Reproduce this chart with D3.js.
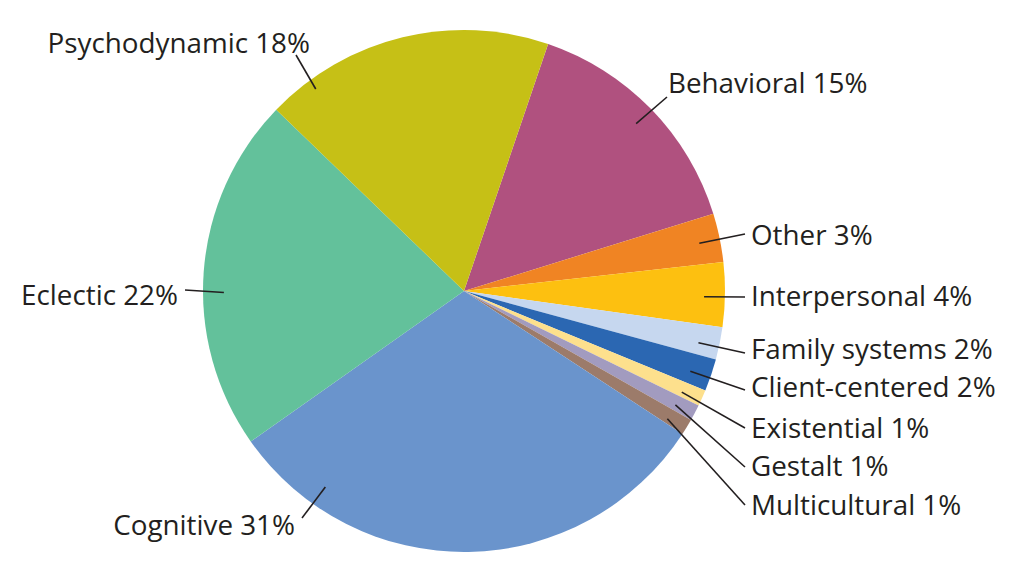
<!DOCTYPE html>
<html>
<head>
<meta charset="utf-8">
<script src="https://cdn.jsdelivr.net/npm/d3@7"></script>
<style>
  html, body { margin: 0; padding: 0; background: #ffffff; }
  svg { display: block; }
  text { font-family: "Open Sans", "Noto Sans", sans-serif; fill: #231f20; }
</style>
</head>
<body>
<svg id="chart" width="1023" height="582"></svg>
<script>
// ---- data ----
const categories = ["Behavioral", "Other", "Interpersonal", "Family systems", "Client-centered",
  "Existential", "Gestalt", "Multicultural", "Cognitive", "Eclectic", "Psychodynamic"];
const percents = [15, 3, 4, 2, 2, 1, 1, 1, 31, 22, 18];
const colors = ["#b0517f", "#f08423", "#fdc010", "#c6d7ef", "#2b67b2",
  "#fde08d", "#a29bbf", "#9c7b6a", "#6a94cc", "#63c19b", "#c6c016"];

// ---- label layout (text anchor / leader-line end, and where the leader enters the slice) ----
// t: fraction across the slice's angle; rr: fraction of radius
const labelLayout = [
  { x: 667, y: 97,  tx: 668, ty: 83,  anchor: "start", t: 0.50, rr: 0.92 },
  { x: 745, y: 234, tx: 751, ty: 235, anchor: "start", t: 0.53, rr: 0.92 },
  { x: 745, y: 297, tx: 751, ty: 296, anchor: "start", t: 0.54, rr: 0.92 },
  { x: 745, y: 353, tx: 751, ty: 349, anchor: "start", t: 0.62, rr: 0.92 },
  { x: 745, y: 390, tx: 751, ty: 387, anchor: "start", t: 0.60, rr: 0.92 },
  { x: 745, y: 428, tx: 751, ty: 428, anchor: "start", t: 0.70, rr: 0.92 },
  { x: 745, y: 467, tx: 751, ty: 466, anchor: "start", t: 0.64, rr: 0.92 },
  { x: 745, y: 505, tx: 751, ty: 505, anchor: "start", t: 0.70, rr: 0.92 },
  { x: 302, y: 518, tx: 295, ty: 525, anchor: "end",   t: 0.825, rr: 0.92 },
  { x: 185, y: 290, tx: 178, ty: 295, anchor: "end",   t: 0.44, rr: 0.92 },
  { x: 296, y: 55,  tx: 310, ty: 43,  anchor: "end",   t: 0.15, rr: 0.96 }
];

const startDeg = 18.8;
const cx = 464, cy = 291, R = 261;

const svg = d3.select("#chart");
const g = svg.append("g").attr("transform", `translate(${cx},${cy})`);

const data = categories.map((c, i) => ({ name: c, value: percents[i], color: colors[i], layout: labelLayout[i] }));

const pie = d3.pie()
  .value(d => d.value)
  .sort(null)
  .startAngle(startDeg * Math.PI / 180)
  .endAngle(startDeg * Math.PI / 180 + 2 * Math.PI);

const arc = d3.arc().innerRadius(0).outerRadius(R);
const arcs = pie(data);

g.selectAll("path.slice")
  .data(arcs)
  .join("path")
  .attr("class", "slice")
  .attr("d", arc)
  .attr("fill", d => d.data.color);

function innerPt(d) {
  const a = d.startAngle + (d.endAngle - d.startAngle) * d.data.layout.t;
  const r = R * d.data.layout.rr;
  return [Math.sin(a) * r, -Math.cos(a) * r];
}

g.selectAll("line.leader")
  .data(arcs)
  .join("line")
  .attr("class", "leader")
  .attr("x1", d => innerPt(d)[0])
  .attr("y1", d => innerPt(d)[1])
  .attr("x2", d => d.data.layout.x - cx)
  .attr("y2", d => d.data.layout.y - cy)
  .attr("stroke", "#231f20")
  .attr("stroke-width", 1.6);

svg.selectAll("text.label")
  .data(arcs)
  .join("text")
  .attr("class", "label")
  .attr("x", d => d.data.layout.tx)
  .attr("y", d => d.data.layout.ty)
  .attr("dy", "0.36em")
  .attr("text-anchor", d => d.data.layout.anchor)
  .attr("font-size", 27.8)
  .text(d => `${d.data.name} ${d.data.value}%`);
</script>
</body>
</html>
